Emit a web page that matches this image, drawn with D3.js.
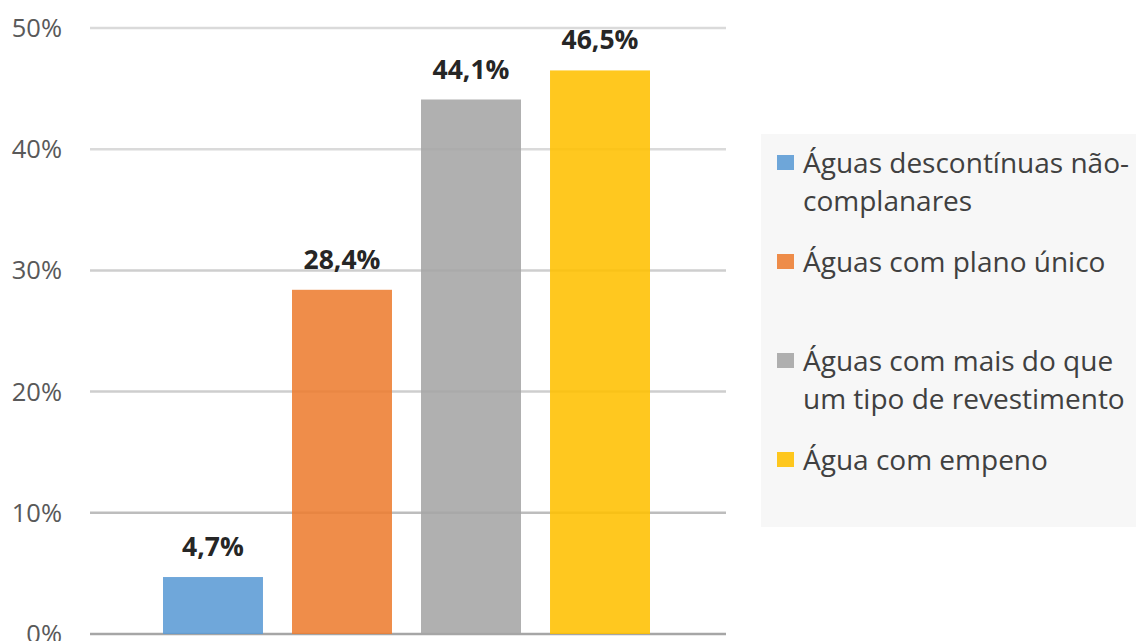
<!DOCTYPE html>
<html>
<head>
    <meta charset="UTF-8">
    <title>Águas</title>
    <script src="https://d3js.org/d3.v7.min.js"></script>
    <style>
        body { margin: 0; padding: 0; background: #fff; overflow: hidden; }
        svg { display: block; font-family: "Open Sans", sans-serif; }
        .tick-label { fill: #595959; font-size: 25.5px; }
        .value-label { fill: #262626; font-size: 26.5px; font-weight: bold; }
        .legend-text { fill: #404040; font-size: 28px; }
    </style>
</head>
<body>
    <svg width="1136" height="641"></svg>
    <script>
        // dados
        const series = [
            "Águas descontínuas não-complanares",
            "Águas com plano único",
            "Águas com mais do que um tipo de revestimento",
            "Água com empeno"
        ];
        const legendLines = [
            ["Águas descontínuas não-", "complanares"],
            ["Águas com plano único"],
            ["Águas com mais do que", "um tipo de revestimento"],
            ["Água com empeno"]
        ];
        const values = [4.7, 28.4, 44.1, 46.5];
        const valueLabels = ["4,7%", "28,4%", "44,1%", "46,5%"];
        const colors = ["#5b9bd5", "#ed7d31", "#a5a5a5", "#ffc000"];
        const yTicks = [0, 10, 20, 30, 40, 50];

        const svg = d3.select("svg");
        const plot = { left: 90, right: 726, top: 28, bottom: 634 };

        const y = d3.scaleLinear().domain([0, 50]).range([plot.bottom, plot.top]);
        const x = d3.scaleBand().domain(series).range([163, 650]).paddingInner(0.225).paddingOuter(0);

        // linhas de grade (mais escuras em baixo, como no original)
        const gridColor = d => d === 0 ? "#a6a6a6" : d >= 40 ? "#dadada" : d >= 20 ? "#cecece" : "#bdbdbd";
        svg.append("g")
            .selectAll("line")
            .data(yTicks)
            .join("line")
            .attr("x1", plot.left)
            .attr("x2", plot.right)
            .attr("y1", d => y(d))
            .attr("y2", d => y(d))
            .attr("stroke", gridColor)
            .attr("stroke-width", 2.5);

        // rótulos do eixo
        svg.append("g")
            .selectAll("text")
            .data(yTicks)
            .join("text")
            .attr("class", "tick-label")
            .attr("x", 62)
            .attr("y", d => y(d))
            .attr("dy", "0.35em")
            .attr("text-anchor", "end")
            .text(d => d + "%");

        // barras
        svg.append("g")
            .selectAll("rect")
            .data(values)
            .join("rect")
            .attr("x", (d, i) => x(series[i]))
            .attr("y", d => y(d))
            .attr("width", x.bandwidth())
            .attr("height", d => y(0) - y(d))
            .attr("fill", (d, i) => colors[i])
            .attr("fill-opacity", 0.88);

        // valores
        svg.append("g")
            .selectAll("text")
            .data(values)
            .join("text")
            .attr("class", "value-label")
            .attr("x", (d, i) => x(series[i]) + x.bandwidth() / 2)
            .attr("y", d => y(d) - 21)
            .attr("text-anchor", "middle")
            .text((d, i) => valueLabels[i]);

        // legenda
        const legend = svg.append("g");
        legend.append("rect")
            .attr("x", 761).attr("y", 134)
            .attr("width", 380).attr("height", 393)
            .attr("fill", "#f7f7f7");

        const item = legend.selectAll("g.item")
            .data(series)
            .join("g")
            .attr("class", "item")
            .attr("transform", (d, i) => `translate(777, ${163 + i * 99})`);

        item.append("rect")
            .attr("x", 0).attr("y", -8)
            .attr("width", 17).attr("height", 15)
            .attr("fill", (d, i) => colors[i])
            .attr("fill-opacity", 0.88);

        item.append("text")
            .attr("class", "legend-text")
            .selectAll("tspan")
            .data((d, i) => legendLines[i])
            .join("tspan")
            .attr("x", 26)
            .attr("y", (d, j) => j * 38)
            .attr("dy", "0.35em")
            .text(d => d);
    </script>
</body>
</html>
